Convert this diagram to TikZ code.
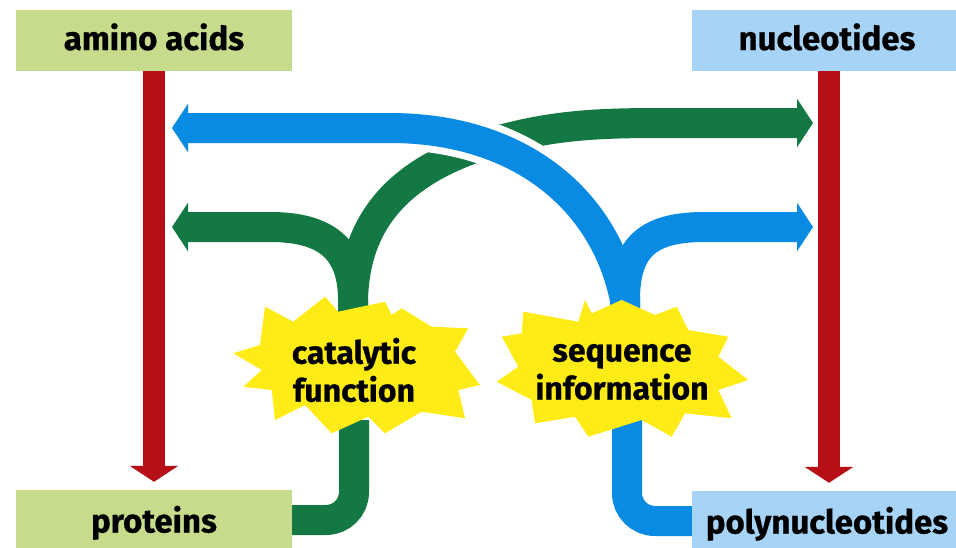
\documentclass[tikz,border=0pt]{standalone}
\usepackage{fontspec}
\setmainfont{Fira Sans}[BoldFeatures={FakeBold=0.6}]
\usetikzlibrary{arrows.meta}

\definecolor{boxgreen}{HTML}{C6DB8B}
\definecolor{boxblue}{HTML}{A7D4F6}
\definecolor{redarrow}{HTML}{B60F18}
\definecolor{bluearrow}{HTML}{0A8BE3}
\definecolor{greenarrow}{HTML}{137843}
\definecolor{burstyellow}{HTML}{FFEB15}

\begin{document}
\begin{tikzpicture}[x=1pt,y=-1pt,
  labelbox/.style={rectangle, inner sep=0pt, text height=24pt, text depth=5pt,
    font=\fontsize{33}{38}\selectfont\bfseries},
  bursttext/.style={align=center, inner sep=0pt,
    font=\fontsize{32}{38}\selectfont\bfseries},
  burst/.style={fill=burstyellow},
  widehead/.style={-{Triangle[length=16pt,width=48pt]}},
  redline/.style={draw=redarrow, line width=22pt, widehead},
  greenband/.style={draw=greenarrow, line width=30pt},
  blueband/.style={draw=bluearrow, line width=30pt},
  gap/.style={draw=white, line width=44pt},
]
\useasboundingbox (0,0) rectangle (956,547);

% the four boxes
\node[labelbox, fill=boxgreen, minimum width=276pt, minimum height=61pt] (aa) at (154,40.5) {amino acids};
\node[labelbox, fill=boxblue,  minimum width=270pt, minimum height=61pt] (nt) at (827,40.5) {nucleotides};
\node[labelbox, fill=boxgreen, minimum width=276pt, minimum height=66pt] (pr) at (154,523) {proteins};
\node[labelbox, fill=boxblue,  minimum width=270pt, minimum height=66pt] (pn) at (827,524) {polynucleotides};

% polymerisation arrows
\draw[redline, shorten >=8pt] (aa.south) -- (pr.north);
\draw[redline, shorten >=8pt] ([xshift=2pt]nt.south) -- ([xshift=2pt]pn.north);

% branch points hidden behind the bursts
\coordinate (gstem) at (353,330);
\coordinate (glow)  at (354,420);
\coordinate (gL)    at (172,227);
\coordinate (gR)    at (813,123);
\coordinate (bstem) at (625,330);
\coordinate (blow)  at (627,420);
\coordinate (bL)    at (172,128);
\coordinate (bR)    at (813,227);

% proteins: catalytic function
\draw[greenband, widehead] (gstem) -- (353,300) .. controls (353,248) and (325,227) .. (270,227) -- (gL);
\draw[greenband, widehead] (gstem) -- (353,300) .. controls (355,212) and (410,165) .. (500,140)
  .. controls (555,125) and (600,123) .. (660,123) -- (gR);
\draw[greenband, rounded corners=28pt] (glow) |- ([yshift=3pt]pr.east);

% polynucleotides: sequence information (passes over the green band)
\draw[gap] (625,300) .. controls (605,200) and (520,128) .. (390,128) -- (200,128);
\draw[blueband, widehead] (bstem) -- (625,300) .. controls (605,200) and (520,128) .. (390,128) -- (bL);
\draw[blueband, widehead] (bstem) -- (625,300) .. controls (625,245) and (650,227) .. (705,227) -- (bR);
\draw[blueband, rounded corners=28pt] (blow) |- ([yshift=3pt]pn.west);

% bursts
\fill[burst] (233.3,353.3) -- (260,345) -- (265,306.7) -- (293.3,321.7) -- (325,296.7)
  -- (338.3,311.7) -- (385,301.7) -- (391.7,315) -- (401.7,308.3) -- (431.7,326.7)
  -- (468.3,328.3) -- (455,351.7) -- (480,385) -- (458.3,390) -- (465,418.3)
  -- (421.7,411.7) -- (385,433.3) -- (368.3,416.7) -- (331.7,433.3) -- (305,405)
  -- (275,420) -- (271.7,390) -- (243.3,386.7) -- (261.7,370) -- cycle;
\fill[burst] (501.7,336.7) -- (521.7,333.3) -- (523.3,311.7) -- (578.3,321.7) -- (585,300)
  -- (591.7,313.3) -- (621.7,300) -- (655,315) -- (676.7,306.7) -- (688.3,330)
  -- (728.3,336.7) -- (718.3,356.7) -- (748.3,380) -- (718.3,390) -- (731.7,418.3)
  -- (685,413.3) -- (671.7,436.7) -- (641.7,420) -- (588.3,436.7) -- (575,416.7)
  -- (535,423.3) -- (531.7,400) -- (496.7,381.7) -- (518.3,366.7) -- cycle;

\node[bursttext] (cf) at (354,370) {catalytic\\function};
\node[bursttext] (si) at (622,372) {sequence\\information};
\end{tikzpicture}
\end{document}
